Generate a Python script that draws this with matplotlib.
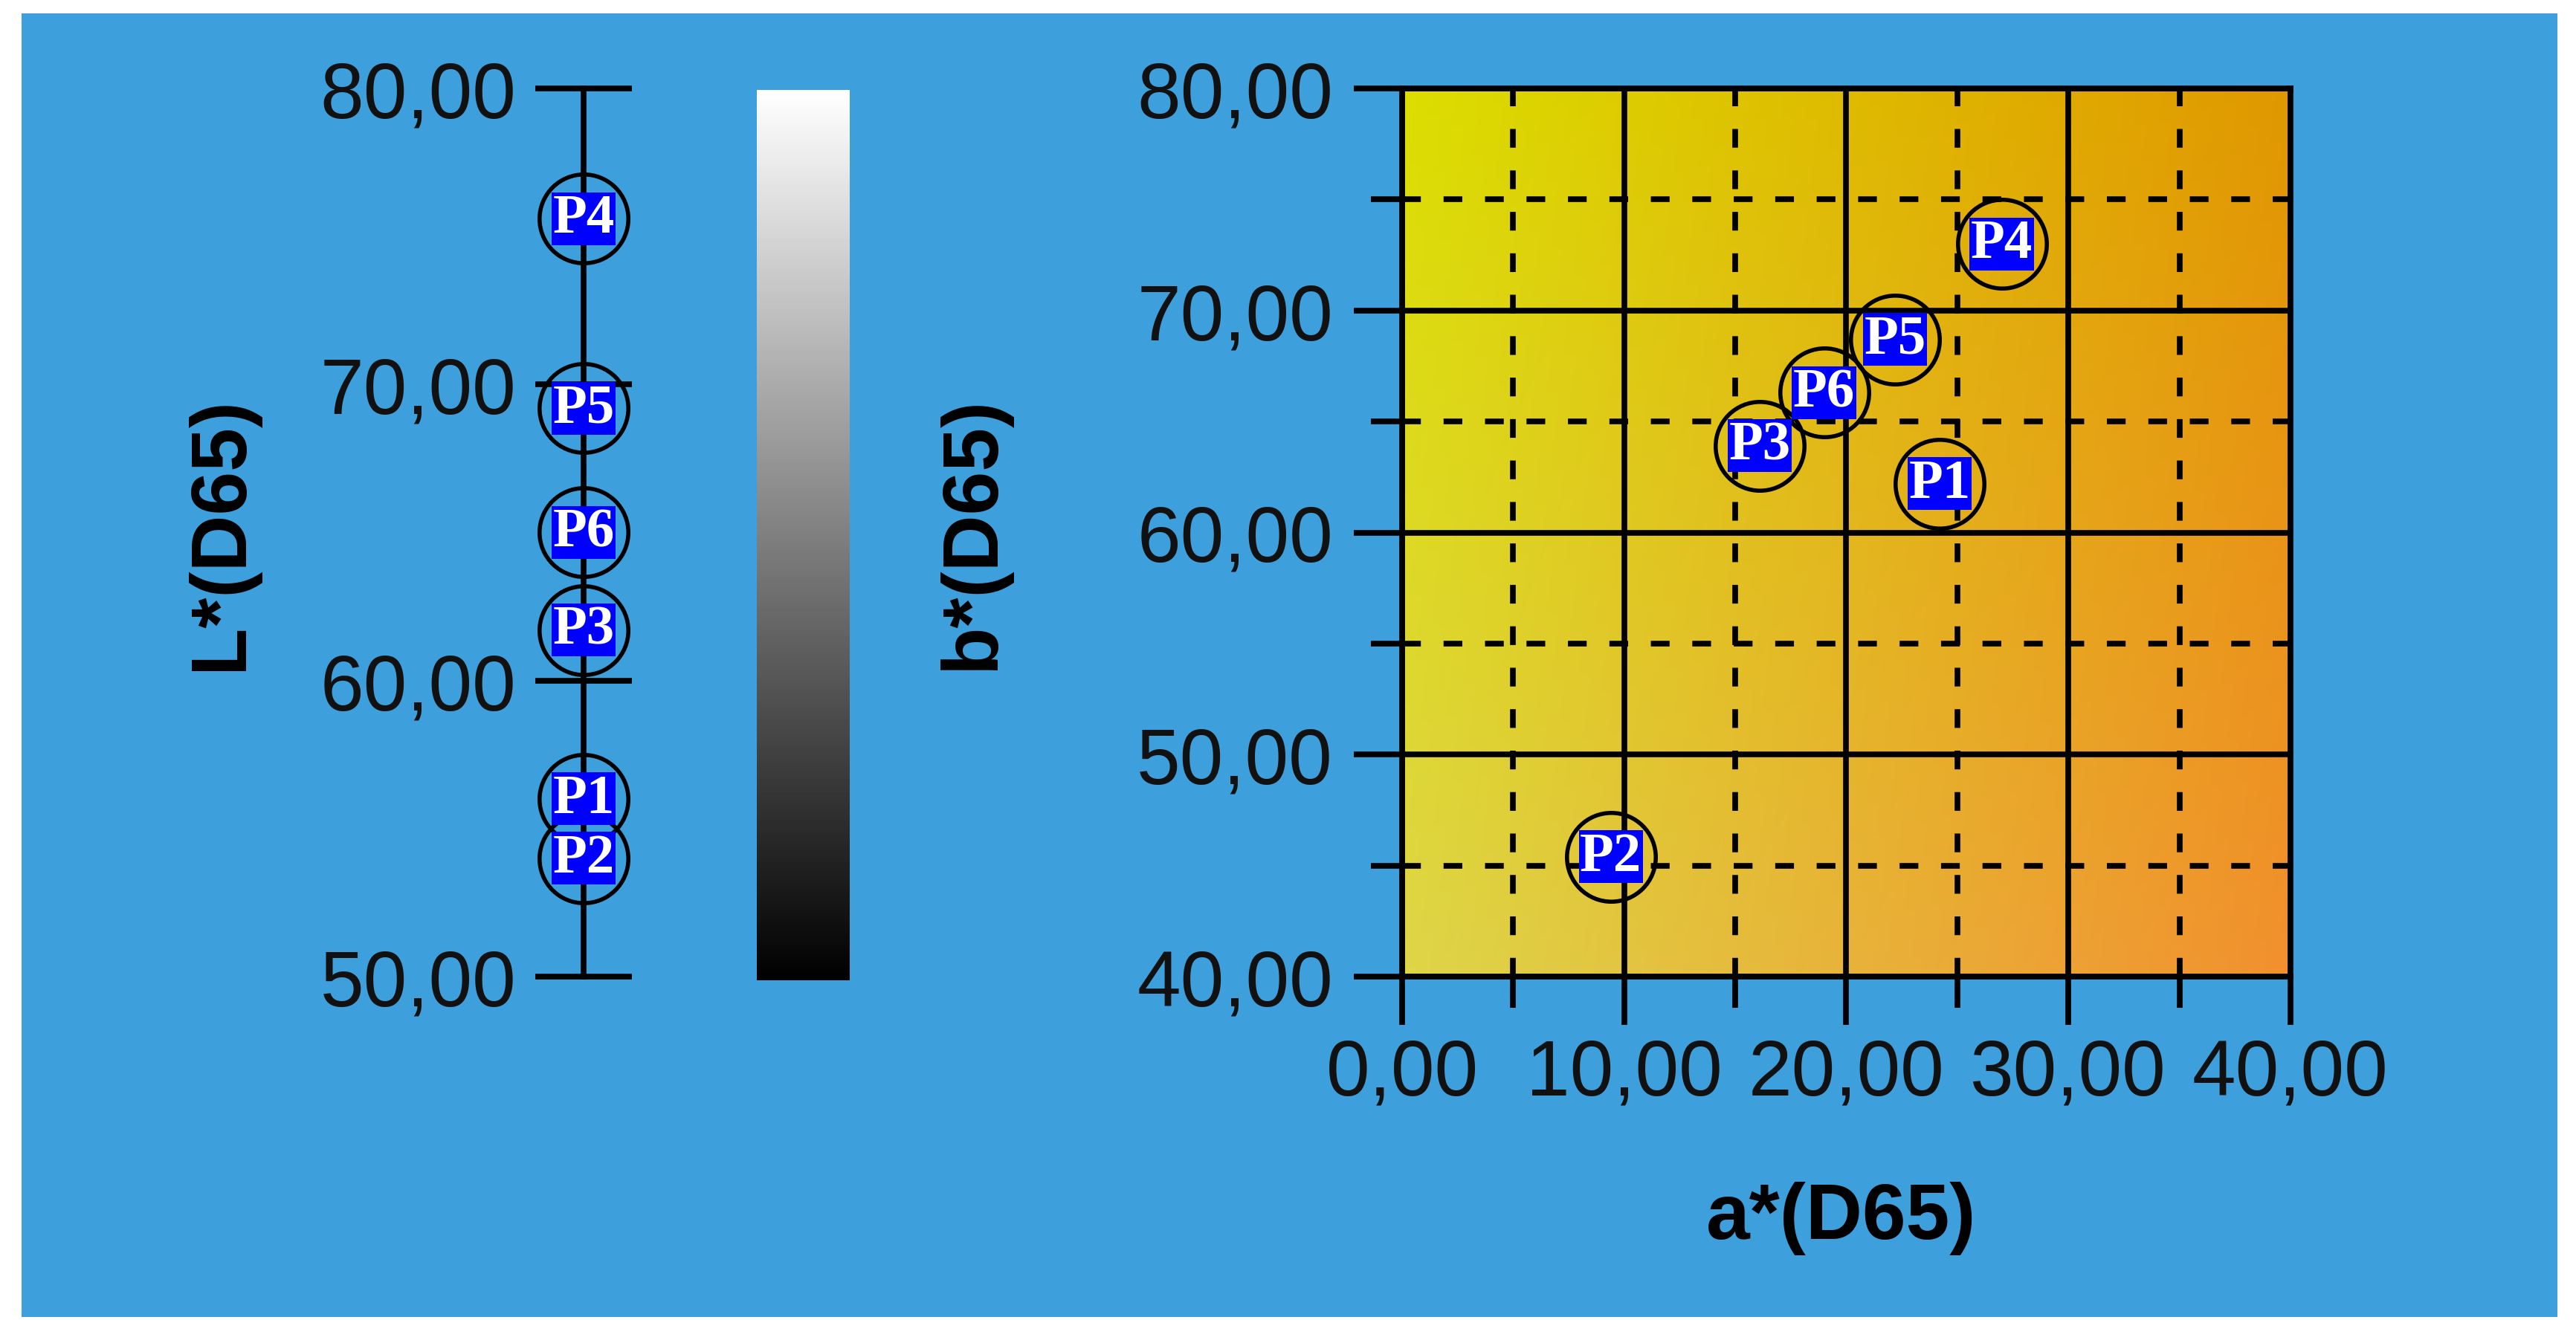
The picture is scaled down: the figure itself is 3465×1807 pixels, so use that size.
import matplotlib.pyplot as plt
import numpy as np
from matplotlib.ticker import FuncFormatter, MultipleLocator
from matplotlib.patches import Rectangle

# sample points (CIE L*a*b*, D65)
names = ['P1', 'P2', 'P3', 'P4', 'P5', 'P6']
L_vals = [56.0, 54.0, 61.7, 75.6, 69.2, 65.0]
a_vals = [24.2, 9.4, 16.1, 27.0, 22.2, 19.0]
b_vals = [62.2, 45.4, 63.9, 73.0, 68.7, 66.3]

L_ticks = [50, 60, 70, 80]
a_ticks = [0, 10, 20, 30, 40]
b_ticks = [40, 50, 60, 70, 80]

W, H = 3466, 1808
blue = '#3d9fdb'
sans = 'Liberation Sans'
LW = 5.5
fmt = FuncFormatter(lambda v, p: ('%.2f' % v).replace('.', ','))

fig = plt.figure(figsize=(W / 100, H / 100), dpi=100, facecolor='white')
fig.patches.append(Rectangle((29 / W, 1 - 1773 / H), (3440 - 29) / W, (1773 - 19) / H,
                             transform=fig.transFigure, fc=blue, ec='none', zorder=-10))

def box(x0, x1, y0, y1):
    # pixel box (from top-left) -> figure fractions
    return [x0 / W, 1 - y1 / H, (x1 - x0) / W, (y1 - y0) / H]

def label_pts(ax, xs, ys):
    for n, x, y in zip(names, xs, ys):
        ax.plot(x, y, marker='o', ms=86, mfc='none', mec='black', mew=4,
                ls='none', clip_on=False, zorder=5)
        ax.text(x, y, n, ha='center', va='center', color='white', fontsize=54,
                fontweight='bold', family='Liberation Serif', zorder=6, clip_on=False,
                bbox=dict(boxstyle='square,pad=0.02', fc='#0000ff', ec='none'))

# ---- L* axis
ax1 = fig.add_axes(box(785, 855, 120, 1315))
ax1.patch.set_alpha(0)
for s in ['top', 'right', 'bottom']:
    ax1.spines[s].set_visible(False)
ax1.spines['left'].set_linewidth(LW)
ax1.set_xlim(0, 1)
ax1.set_ylim(50, 80)
ax1.set_yticks(L_ticks)
ax1.yaxis.set_major_formatter(fmt)
ax1.set_xticks([])
ax1.tick_params(axis='y', direction='inout', length=94, width=LW, pad=18,
                labelsize=76, labelcolor='#111111')
for t in ax1.get_yticklabels():
    t.set_family(sans)
label_pts(ax1, [0] * len(names), L_vals)
ax1.set_ylabel('L*(D65)', fontsize=76, fontweight='bold', family=sans)
ax1.yaxis.set_label_coords((298 - 785) / 70, 0.5)
ax1.yaxis.label.set_va('center')

# ---- gray bar
ax2 = fig.add_axes(box(1018, 1143, 122, 1320))
ax2.imshow(np.linspace(1, 0, 256).reshape(-1, 1), cmap='gray', aspect='auto',
           vmin=0, vmax=1)
ax2.axis('off')

# ---- a*b* plane
ax3 = fig.add_axes(box(1886, 3081, 120, 1315))
tl = np.array([220, 222, 0]) / 255
tr = np.array([224, 152, 0]) / 255
bl = np.array([222, 214, 72]) / 255
br = np.array([242, 144, 46]) / 255
u = np.linspace(0, 1, 200)[None, :, None]
v = np.linspace(0, 1, 200)[:, None, None]
grad = (1 - v) * ((1 - u) * tl + u * tr) + v * ((1 - u) * bl + u * br)
ax3.imshow(grad, extent=[0, 40, 40, 80], aspect='auto', zorder=0, interpolation='bilinear')
ax3.set_xlim(0, 40)
ax3.set_ylim(40, 80)
ax3.set_xticks(a_ticks)
ax3.set_yticks(b_ticks)
ax3.xaxis.set_minor_locator(MultipleLocator(5))
ax3.yaxis.set_minor_locator(MultipleLocator(5))
ax3.xaxis.set_major_formatter(fmt)
ax3.yaxis.set_major_formatter(fmt)
ax3.grid(which='major', color='black', lw=LW, ls='-')
ax3.grid(which='minor', color='black', lw=LW, ls=(0, (3.3, 4)))
for s in ax3.spines.values():
    s.set_linewidth(LW)
ax3.tick_params(which='major', length=47, width=LW, labelsize=76, labelcolor='#111111')
ax3.tick_params(which='minor', length=30, width=LW)
ax3.tick_params(axis='x', which='major', pad=12)
ax3.tick_params(axis='y', which='major', pad=20)
for t in ax3.get_xticklabels() + ax3.get_yticklabels():
    t.set_family(sans)
label_pts(ax3, a_vals, b_vals)
ax3.set_ylabel('b*(D65)', fontsize=76, fontweight='bold', family=sans)
ax3.yaxis.set_label_coords((1309 - 1886) / 1195, 0.5)
ax3.yaxis.label.set_va('center')
ax3.set_xlabel('a*(D65)', fontsize=76, fontweight='bold', family=sans)
ax3.xaxis.set_label_coords(0.494, (1315 - 1640) / 1195)
ax3.xaxis.label.set_va('center')

fig.savefig('out.png', dpi=100, facecolor='white')
